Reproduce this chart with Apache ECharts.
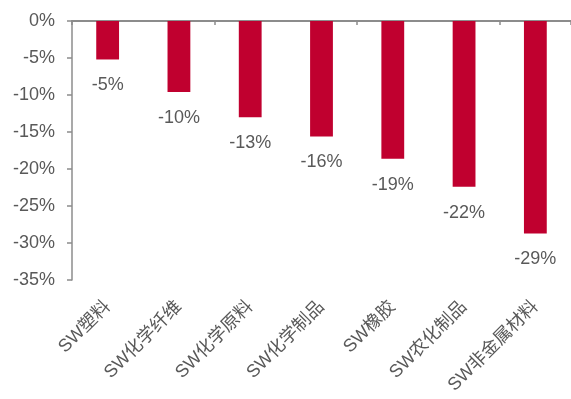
<!DOCTYPE html>
<html>
<head>
<meta charset="utf-8">
<script src="https://cdn.jsdelivr.net/npm/echarts@6/dist/echarts.min.js"></script>
<style>
  html, body { margin: 0; padding: 0; background: #fff; }
  #chart { width: 571px; height: 399px; }
</style>
</head>
<body>
<div id="chart"></div>
<script>
// 各子行业涨跌幅（%）
const categories = ["SW塑料", "SW化学纤维", "SW化学原料", "SW化学制品", "SW橡胶", "SW农化制品", "SW非金属材料"];
const changes = [-5.2, -9.6, -13.0, -15.6, -18.6, -22.4, -28.7];
const yTicks = [0, -5, -10, -15, -20, -25, -30, -35];

const textColor = "#595959";
const axisColor = "#8c8c8c";
const font = "Liberation Sans, Arial, Noto Sans CJK SC, sans-serif";

const chart = echarts.init(document.getElementById("chart"));

const option = {
  animation: false,
  grid: { left: 72, right: -1, top: 21, bottom: 119 },
  xAxis: [
    {
      type: "category",
      position: "top",
      data: categories,
      axisLine: { show: true, onZero: false, lineStyle: { color: axisColor, width: 2 } },
      axisTick: { show: true, inside: true, length: 4, lineStyle: { color: axisColor, width: 1.5 } },
      axisLabel: { show: false },
      splitLine: { show: false }
    },
    {
      // 底部斜排标签
      type: "category",
      position: "bottom",
      data: categories,
      axisLine: { show: false, onZero: false },
      axisTick: { show: false },
      axisLabel: {
        rotate: 45,
        margin: 24,
        interval: 0,
        color: textColor,
        fontSize: 18,
        fontFamily: font
      }
    }
  ],
  yAxis: {
    type: "value",
    min: yTicks[yTicks.length - 1],
    max: yTicks[0],
    interval: 5,
    axisLine: { show: true, lineStyle: { color: axisColor, width: 1.5 } },
    axisTick: { show: true, length: 5, lineStyle: { color: axisColor, width: 1.5 } },
    axisLabel: {
      margin: 17,
      color: textColor,
      fontSize: 18,
      fontFamily: font,
      formatter: v => v + "%"
    },
    splitLine: { show: false }
  },
  series: [
    {
      type: "bar",
      xAxisIndex: 0,
      data: changes,
      barWidth: "32%",
      itemStyle: { color: "#C0002F" },
      label: {
        show: true,
        position: "outside",
        distance: 17,
        color: textColor,
        fontSize: 18,
        fontFamily: font,
        formatter: p => Math.round(p.value) + "%"
      }
    }
  ]
};

chart.setOption(option);
</script>
</body>
</html>
